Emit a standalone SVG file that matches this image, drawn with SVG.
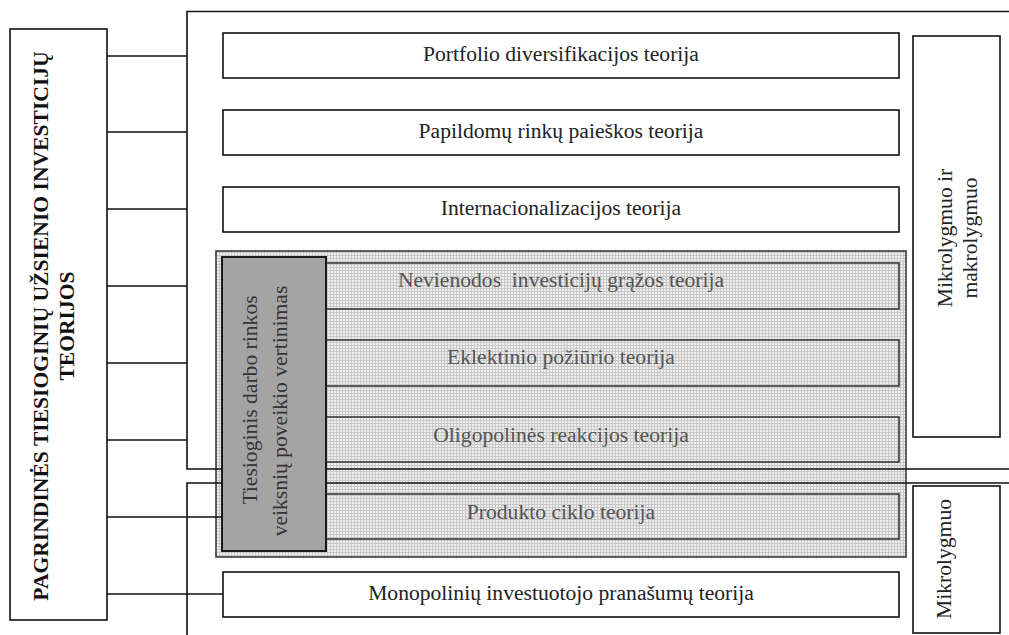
<svg xmlns="http://www.w3.org/2000/svg" width="1009" height="635" viewBox="0 0 1009 635">
<defs>
<pattern id="grid" width="3" height="3" patternUnits="userSpaceOnUse">
<rect width="3" height="3" fill="#efefef"/>
<path d="M0 0.5H3M0.5 0V3" stroke="#c8c8c8" stroke-width="1"/>
</pattern>
<style>
.box{fill:#fff;stroke:#111;stroke-width:1.6}
.pat{fill:url(#grid);stroke:#3a3a3a;stroke-width:1.6}
.dark{fill:#a4a4a4;stroke:#1a1a1a;stroke-width:2}
.ln{fill:none;stroke:#111;stroke-width:1.6}
text{font-family:"Liberation Serif","Times New Roman",serif;font-size:21.6px;fill:#222}
.c{text-anchor:middle}
.g{fill:#555}
.dk{fill:#333}
.b{font-weight:bold;fill:#111}
</style>
</defs>
<rect width="1009" height="635" fill="#fff"/>

<g id="group-area">
<rect class="pat" x="216" y="251" width="690" height="306"/>
</g>
<g id="node-nevienodos">
<rect class="pat" x="223" y="263" width="676" height="46"/>
<text class="c g" x="561" y="287" xml:space="preserve" style="white-space:pre">Nevienodos  investicijų grąžos teorija</text>
</g>
<g id="node-eklektinio">
<rect class="pat" x="223" y="340" width="676" height="46"/>
<text class="c g" x="561" y="364">Eklektinio požiūrio teorija</text>
</g>
<g id="node-oligopolines">
<rect class="pat" x="223" y="417" width="676" height="45"/>
<text class="c g" x="561" y="442">Oligopolinės reakcijos teorija</text>
</g>
<g id="node-produkto">
<rect class="pat" x="223" y="494" width="676" height="45"/>
<text class="c g" x="561" y="519">Produkto ciklo teorija</text>
</g>

<g id="connectors">
<path class="ln" d="M187 635V483H1009M1009 469H187V11.5H1009"/>
<path class="ln" d="M107 56H187M107 132H187M107 209H187M107 286H187M107 363H187M107 440H187M107 517H222M107 594H223"/>
</g>

<g id="node-tiesioginis">
<rect class="dark" x="222" y="257" width="104" height="294"/>
<text class="c dk" transform="translate(257,400) rotate(-90)">Tiesioginis darbo rinkos</text>
<text class="c dk" transform="translate(287,411) rotate(-90)">veiksnių poveikio vertinimas</text>
</g>

<g id="node-portfolio">
<rect class="box" x="223" y="33" width="676" height="45"/>
<text class="c" x="561" y="60.5">Portfolio diversifikacijos teorija</text>
</g>
<g id="node-papildomu">
<rect class="box" x="223" y="110" width="676" height="45"/>
<text class="c" x="561" y="137.5">Papildomų rinkų paieškos teorija</text>
</g>
<g id="node-internacionalizacijos">
<rect class="box" x="223" y="187" width="676" height="45"/>
<text class="c" x="561" y="214.5">Internacionalizacijos teorija</text>
</g>
<g id="node-monopoliniu">
<rect class="box" x="223" y="572" width="676" height="45"/>
<text class="c" x="561" y="599.5">Monopolinių investuotojo pranašumų teorija</text>
</g>

<g id="node-main">
<rect class="box" x="10" y="29" width="97" height="591"/>
<text class="c b" transform="translate(47.5,326) rotate(-90)">PAGRINDINĖS TIESIOGINIŲ UŽSIENIO INVESTICIJŲ</text>
<text class="c b" transform="translate(74,326) rotate(-90)">TEORIJOS</text>
</g>

<g id="node-mikro-makro">
<rect class="box" x="913" y="36" width="87" height="401"/>
<text class="c" transform="translate(952,238) rotate(-90)">Mikrolygmuo ir</text>
<text class="c" transform="translate(977,238) rotate(-90)">makrolygmuo</text>
</g>
<g id="node-mikro">
<rect class="box" x="913" y="486" width="87" height="147"/>
<text class="c" transform="translate(951,559) rotate(-90)">Mikrolygmuo</text>
</g>
</svg>
